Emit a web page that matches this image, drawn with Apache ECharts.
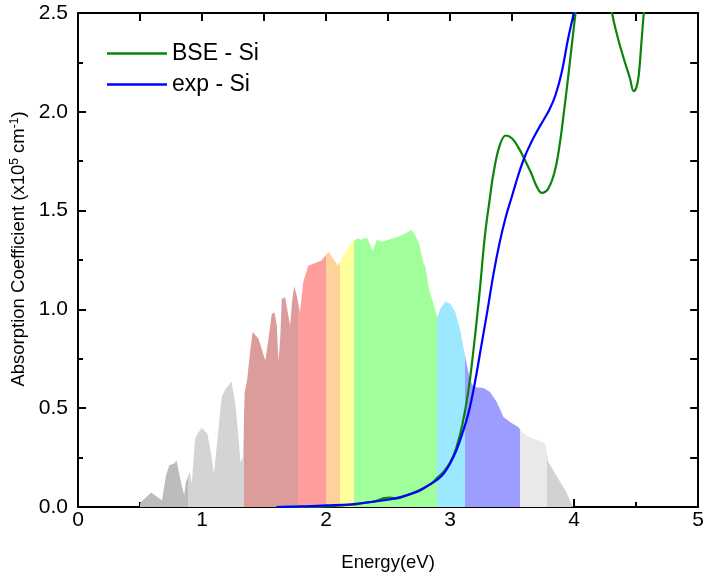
<!DOCTYPE html>
<html>
<head>
<meta charset="utf-8">
<script src="https://cdn.jsdelivr.net/npm/echarts@6/dist/echarts.min.js"></script>
<style>html,body{margin:0;padding:0;background:#fff;}#c{width:707px;height:577px;}</style>
</head>
<body>
<div id="c"></div>
<script>
// Solar spectrum outline (energy eV, arbitrary scaled absorption units)
const spectrumPoints = [[0.496,0],[0.5,0.02],[0.589,0.073],[0.677,0.034],[0.709,0.16],[0.736,0.211],[0.776,0.22],[0.794,0.236],[0.83,0.127],[0.856,0.06],[0.869,0.127],[0.901,0.178],[0.917,0.119],[0.944,0.346],[0.963,0.371],[0.998,0.4],[1.043,0.371],[1.07,0.279],[1.096,0.169],[1.109,0.16],[1.13,0.38],[1.158,0.556],[1.19,0.598],[1.238,0.635],[1.27,0.514],[1.29,0.38],[1.31,0.228],[1.328,0.245],[1.344,0.582],[1.363,0.64],[1.39,0.8],[1.408,0.885],[1.456,0.851],[1.51,0.741],[1.536,0.851],[1.562,0.977],[1.584,0.986],[1.603,0.918],[1.616,0.733],[1.63,0.851],[1.643,1.053],[1.67,1.062],[1.71,0.918],[1.728,1.053],[1.744,1.117],[1.77,1.053],[1.79,0.986],[1.816,1.137],[1.856,1.221],[1.962,1.247],[2.021,1.292],[2.096,1.221],[2.176,1.314],[2.224,1.347],[2.256,1.36],[2.282,1.352],[2.33,1.364],[2.376,1.297],[2.41,1.352],[2.456,1.342],[2.522,1.356],[2.602,1.373],[2.656,1.39],[2.688,1.403],[2.722,1.373],[2.75,1.331],[2.784,1.238],[2.802,1.213],[2.83,1.104],[2.87,1.019],[2.896,0.961],[2.922,1.003],[2.962,1.039],[3.002,1.028],[3.042,0.986],[3.082,0.893],[3.11,0.8],[3.136,0.716],[3.162,0.64],[3.19,0.607],[3.27,0.602],[3.322,0.582],[3.376,0.531],[3.43,0.456],[3.482,0.43],[3.55,0.405],[3.576,0.38],[3.616,0.363],[3.67,0.346],[3.75,0.329],[3.772,0.31],[3.79,0.23],[3.856,0.16],[3.936,0.077],[3.99,0]];

// Spectral band edges (eV)
const bandEdges = [0.496, 0.888, 1.336, 1.776, 2.003, 2.115, 2.224, 2.896, 3.117, 3.56, 3.784, 3.99];
const bandColors = ['#bcbcbc','#d4d4d4','#dc9c9c','#ff9c9c','#ffd29c','#ffff9c','#a0ff9b','#9ce8ff','#9d9dff','#e9e9e9','#d2d2d2'];

// BSE - Si
const bseX = [1.6,2.0,2.2,2.3,2.4,2.47,2.52,2.56,2.65,2.75,2.85,2.9,2.95,3.0,3.05,3.1,3.15,3.2,3.24,3.28,3.32,3.35,3.4,3.45,3.5,3.55,3.6,3.65,3.7,3.74,3.79,3.84,3.88,3.92,3.96,4.0,4.05,4.1,4.15,4.2,4.25,4.3,4.35,4.4,4.45,4.48,4.5,4.52,4.54,4.56,4.6];
const bseY = [0,0.003,0.01,0.02,0.03,0.045,0.048,0.042,0.06,0.085,0.12,0.15,0.18,0.225,0.3,0.42,0.6,0.86,1.1,1.37,1.56,1.69,1.83,1.88,1.865,1.82,1.76,1.695,1.62,1.59,1.61,1.69,1.82,2.01,2.22,2.44,2.7,2.9,3.0,2.95,2.78,2.52,2.38,2.27,2.17,2.105,2.12,2.18,2.33,2.49,2.8];

// exp - Si
const expX = [1.6,1.8,2.0,2.2,2.47,2.6,2.736,2.8,2.9,2.95,3.0,3.05,3.1,3.15,3.2,3.25,3.3,3.35,3.4,3.45,3.5,3.55,3.6,3.65,3.7,3.75,3.8,3.85,3.9,3.95,4.0,4.05];
const expY = [0,0.003,0.008,0.014,0.034,0.05,0.077,0.1,0.14,0.17,0.22,0.285,0.375,0.48,0.63,0.81,0.99,1.18,1.34,1.47,1.575,1.68,1.77,1.84,1.9,1.955,2.01,2.085,2.2,2.366,2.51,2.7];

const FONT = 'Liberation Sans, Arial, sans-serif';
const pieces = bandColors.map((c, i) => i === bandColors.length - 1
  ? {gte: bandEdges[i], lte: bandEdges[i + 1], color: c}
  : {gte: bandEdges[i], lt: bandEdges[i + 1], color: c});

const chart = echarts.init(document.getElementById('c'), null, {renderer: 'canvas'});
const axisLine = {show: true, onZero: false, lineStyle: {color: '#000', width: 2}};
const tickStyle = {color: '#000', width: 2};
chart.setOption({
  animation: false,
  backgroundColor: '#fff',
  textStyle: {fontFamily: FONT},
  grid: {left: 78, right: 4, top: 13, bottom: 68, containLabel: false},
  legend: {
    orient: 'vertical', left: 102, top: 37, itemWidth: 60, itemHeight: 2.5, itemGap: 8, icon: 'rect',
    data: ['BSE - Si', 'exp - Si'],
    textStyle: {fontSize: 23, color: '#000', fontFamily: FONT, lineHeight: 23}
  },
  visualMap: {type: 'piecewise', show: false, dimension: 0, seriesIndex: 0, pieces: pieces},
  xAxis: [{
    type: 'value', min: 0, max: 5, interval: 1, position: 'bottom',
    name: 'Energy(eV)', nameLocation: 'middle', nameGap: 46,
    nameTextStyle: {fontSize: 18.5, color: '#000', fontFamily: FONT},
    axisLine: axisLine,
    axisTick: {inside: true, length: 8, lineStyle: tickStyle},
    minorTick: {show: true, splitNumber: 2, length: 5, lineStyle: tickStyle},
    axisLabel: {fontSize: 21, color: '#000', margin: 3, fontFamily: FONT, formatter: v => String(v)},
    splitLine: {show: false}
  }, {
    type: 'value', min: 0, max: 5, interval: 0.5, position: 'top',
    axisLine: axisLine,
    axisTick: {inside: true, length: 8, lineStyle: tickStyle},
    axisLabel: {show: false}, splitLine: {show: false}
  }],
  yAxis: [{
    type: 'value', min: 0, max: 2.5, interval: 0.5, position: 'left',
    name: 'Absorption Coefficient (x10{sup|5} cm{sup|-1})', nameLocation: 'middle', nameGap: 50,
    nameTextStyle: {fontSize: 18.5, color: '#000', fontFamily: FONT, padding: [0, 0, 0, 22],
      rich: {sup: {fontSize: 12, verticalAlign: 'top', color: '#000', fontFamily: FONT}}},
    axisLine: axisLine,
    axisTick: {inside: true, length: 8, lineStyle: tickStyle},
    minorTick: {show: true, splitNumber: 2, length: 5, lineStyle: tickStyle},
    axisLabel: {fontSize: 21, color: '#000', margin: 10, fontFamily: FONT, formatter: v => v.toFixed(1)},
    splitLine: {show: false}
  }, {
    type: 'value', min: 0, max: 2.5, interval: 0.25, position: 'right',
    axisLine: axisLine,
    axisTick: {inside: true, length: 8, lineStyle: tickStyle},
    axisLabel: {show: false}, splitLine: {show: false}
  }],
  series: [{
    name: 'spectrum', type: 'line', xAxisIndex: 0, yAxisIndex: 0,
    data: spectrumPoints, symbol: 'none', smooth: false,
    lineStyle: {width: 0}, areaStyle: {opacity: 1}, z: 1, silent: true
  }, {
    name: 'BSE - Si', type: 'line', xAxisIndex: 0, yAxisIndex: 0,
    data: bseX.map((x, i) => [x, bseY[i]]), symbol: 'none', smooth: 0.4,
    color: '#0a850a', lineStyle: {width: 2.2, color: '#0a850a'}, clip: true, z: 3
  }, {
    name: 'exp - Si', type: 'line', xAxisIndex: 0, yAxisIndex: 0,
    data: expX.map((x, i) => [x, expY[i]]), symbol: 'none', smooth: 0.4,
    color: '#0000ff', lineStyle: {width: 2.2, color: '#0000ff'}, clip: true, z: 4
  }]
});
</script>
</body>
</html>
